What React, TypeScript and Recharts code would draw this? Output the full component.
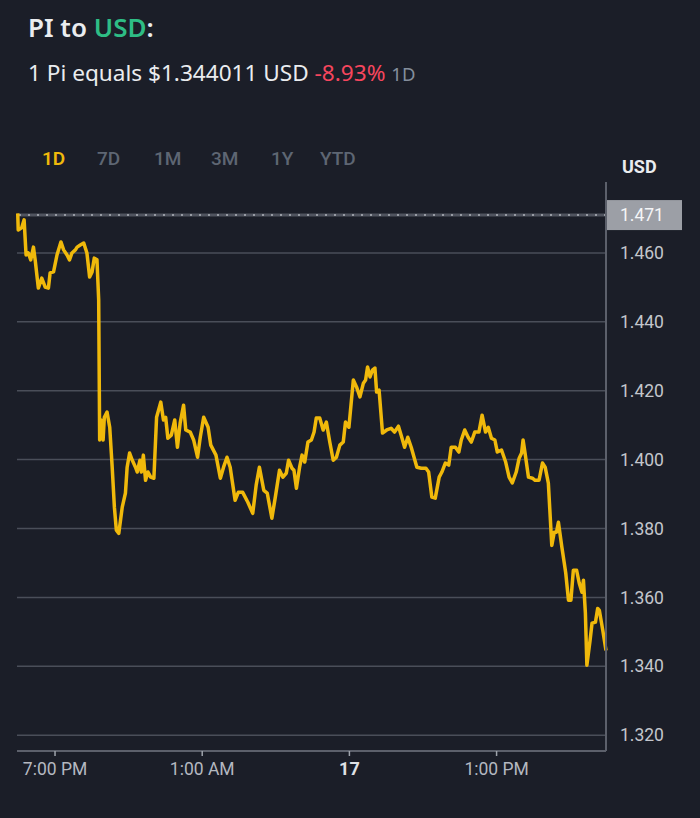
import { LineChart, Line, XAxis, YAxis, CartesianGrid, ReferenceLine } from "recharts";

// hours since midnight of the 16th
const times = [
  17.48, 17.5, 17.64, 17.74, 17.82, 17.91, 18.01, 18.12, 18.19, 18.32,
  18.46, 18.6, 18.73, 18.8, 18.94, 19.08, 19.24, 19.35, 19.49, 19.59,
  19.69, 19.83, 19.9, 20.03, 20.17, 20.3, 20.41, 20.51, 20.6, 20.71,
  20.78, 20.82, 20.88, 20.96, 21.01, 21.12, 21.23, 21.33, 21.42, 21.5,
  21.6, 21.74, 21.87, 21.94, 22.04, 22.15, 22.28, 22.35, 22.46, 22.52,
  22.6, 22.69, 22.79, 22.9, 23.03, 23.14, 23.31, 23.42, 23.51, 23.6,
  23.74, 23.88, 23.99, 24.1, 24.24, 24.33, 24.51, 24.65, 24.81, 24.92,
  25.06, 25.24, 25.35, 25.56, 25.74, 25.87, 26.01, 26.14, 26.34, 26.47,
  26.65, 26.86, 27.06, 27.2, 27.33, 27.51, 27.65, 27.84, 27.98, 28.15,
  28.29, 28.43, 28.52, 28.66, 28.74, 28.84, 28.97, 29.07, 29.18, 29.31,
  29.45, 29.56, 29.65, 29.79, 29.93, 30.06, 30.2, 30.34, 30.47, 30.61,
  30.75, 30.84, 30.98, 31.16, 31.29, 31.43, 31.57, 31.66, 31.74, 31.84,
  31.94, 32.04, 32.11, 32.21, 32.35, 32.52, 32.7, 32.84, 33.0, 33.11,
  33.25, 33.38, 33.52, 33.75, 33.93, 34.12, 34.23, 34.36, 34.5, 34.66,
  34.77, 34.91, 35.05, 35.15, 35.32, 35.46, 35.56, 35.7, 35.84, 35.97,
  36.11, 36.28, 36.41, 36.55, 36.66, 36.79, 36.93, 37.03, 37.2, 37.37,
  37.51, 37.64, 37.8, 37.92, 38.02, 38.08, 38.16, 38.3, 38.46, 38.57,
  38.73, 38.87, 38.98, 39.11, 39.25, 39.35, 39.44, 39.52, 39.66, 39.76,
  39.82, 39.93, 40.03, 40.13, 40.26, 40.37, 40.48, 40.54, 40.62, 40.68,
  40.81, 40.89, 41.03, 41.12, 41.19, 41.33, 41.46,
];

const prices = [
  1.4715, 1.4667, 1.4673, 1.4696, 1.4594, 1.46, 1.458, 1.4617, 1.458, 1.4498,
  1.4527, 1.4501, 1.4498, 1.4542, 1.4545, 1.4594, 1.4632, 1.4609, 1.4594, 1.458,
  1.46, 1.4609, 1.4617, 1.4623, 1.4629, 1.46, 1.453, 1.4545, 1.4585, 1.458,
  1.4463, 1.4057, 1.4115, 1.4057, 1.4123, 1.4138, 1.4094, 1.3978, 1.3862, 1.3795,
  1.3786, 1.3862, 1.3903, 1.3978, 1.4019, 1.3998, 1.3978, 1.3964, 1.3998, 1.3964,
  1.4013, 1.394, 1.3964, 1.3949, 1.3946, 1.4123, 1.4167, 1.4115, 1.4123, 1.4062,
  1.4071, 1.4115, 1.4036, 1.4106, 1.4158, 1.4086, 1.408, 1.4057, 1.4007, 1.4065,
  1.4123, 1.4094, 1.4042, 1.4013, 1.3946, 1.3978, 1.4007, 1.3978, 1.3882, 1.3905,
  1.3905, 1.3876, 1.3844, 1.3926, 1.3978, 1.3911, 1.3903, 1.383, 1.3891, 1.3969,
  1.3949, 1.3961, 1.3998, 1.3975, 1.3969, 1.3917, 1.3978, 1.4013, 1.3993, 1.4051,
  1.4057, 1.408, 1.4121, 1.4121, 1.4086, 1.4109, 1.4051, 1.3998, 1.4007, 1.4042,
  1.4051, 1.4109, 1.4094, 1.4231, 1.4211, 1.4182, 1.4222, 1.4231, 1.4269, 1.424,
  1.426, 1.4266, 1.4196, 1.4202, 1.4077, 1.4086, 1.4091, 1.408, 1.4097, 1.4071,
  1.4036, 1.4065, 1.4036, 1.3978, 1.3975, 1.3975, 1.3964, 1.3891, 1.3888, 1.3949,
  1.3964, 1.399, 1.3984, 1.4036, 1.4036, 1.4022, 1.4057, 1.4086, 1.4065, 1.4051,
  1.408, 1.408, 1.4129, 1.408, 1.4094, 1.4062, 1.4057, 1.4022, 1.4028, 1.3993,
  1.3949, 1.3932, 1.3964, 1.4004, 1.4019, 1.4057, 1.4019, 1.3949, 1.3946, 1.394,
  1.394, 1.399, 1.3978, 1.3932, 1.3751, 1.3789, 1.3789, 1.3818, 1.3746, 1.3699,
  1.367, 1.3592, 1.3592, 1.3679, 1.3679, 1.3641, 1.3615, 1.365, 1.3554, 1.3403,
  1.3475, 1.3525, 1.3528, 1.3568, 1.3562, 1.3504, 1.3446,
];

const xTicks = [19, 25, 31, 37];
const xTickLabels = ["7:00 PM", "1:00 AM", "17", "1:00 PM"];
const yTicks = [1.32, 1.34, 1.36, 1.38, 1.4, 1.42, 1.44, 1.46];
const openPrice = 1.471;
const tabs = ["1D", "7D", "1M", "3M", "1Y", "YTD"];
const tabX = [42, 97, 154, 211, 271, 320];

const data = times.map((t, i) => ({ t, price: prices[i] }));

const BG = "#1b1e28";
const GRID = "#4a4e59";
const AXIS = "#5c606b";
const YELLOW = "#f0b90b";
const FONT = "Roboto, 'Noto Sans', sans-serif";
const HEAD_FONT = "'Noto Sans', Roboto, sans-serif";

function XTick(props: any) {
  const { x, y, payload } = props;
  const i = xTicks.indexOf(payload.value);
  const bold = xTickLabels[i] === "17";
  return (
    <text
      x={x}
      y={y}
      dy={17}
      textAnchor="middle"
      fill={bold ? "#dfe1e5" : "#b4b8c0"}
      fontSize={bold ? 18 : 17.5}
      fontWeight={bold ? 700 : 400}
      fontFamily={FONT}
    >
      {xTickLabels[i]}
    </text>
  );
}

function YTick(props: any) {
  const { x, y, payload } = props;
  return (
    <text x={x} y={y} dy="0.35em" textAnchor="start" fill="#c3c6cc" fontSize={17.5} fontFamily={FONT}>
      {payload.value.toFixed(3)}
    </text>
  );
}

function OpenLabel(props: any) {
  const vb = props.viewBox;
  const x = vb.x + vb.width;
  return (
    <g>
      <rect x={x} y={vb.y - 15} width={76} height={30} fill="#9c9fa6" />
      <text x={x + 14} y={vb.y} dy="0.35em" fill="#f4f5f7" fontSize={17.5} fontFamily={FONT}>
        {openPrice.toFixed(3)}
      </text>
    </g>
  );
}

export default function App() {
  return (
    <div style={{ position: "relative", width: 700, height: 818, background: BG, fontFamily: FONT, overflow: "hidden" }}>
      <style>{"body{margin:0;background:" + BG + "}"}</style>

      <div style={{ position: "absolute", left: 28, top: 9, fontSize: 26, fontWeight: 600, color: "#eaecef", fontFamily: HEAD_FONT }}>
        PI to <span style={{ color: "#2ebd85" }}>USD</span>:
      </div>
      <div style={{ position: "absolute", left: 28, top: 57, fontSize: 22.6, color: "#eaecef", whiteSpace: "nowrap", fontFamily: HEAD_FONT }}>
        1 Pi equals $1.344011 USD <span style={{ color: "#f6465d" }}>-8.93%</span>{" "}
        <span style={{ color: "#848e9c", fontSize: 18.5 }}>1D</span>
      </div>

      {tabs.map((tab, i) => (
        <div
          key={tab}
          style={{
            position: "absolute",
            left: tabX[i],
            top: 147,
            fontSize: 19,
            fontWeight: i === 0 ? 600 : 500,
            color: i === 0 ? YELLOW : "#5e6673",
          }}
        >
          {tab}
        </div>
      ))}

      <div style={{ position: "absolute", left: 622, top: 156, fontSize: 18, fontWeight: 700, color: "#eaecef" }}>
        USD
      </div>

      <div style={{ position: "absolute", left: 0, top: 0 }}>
        <LineChart width={700} height={818} data={data} margin={{ top: 182, right: 0, bottom: 0, left: 17 }}>
          <CartesianGrid vertical={false} horizontalValues={yTicks} stroke={GRID} strokeWidth={1.5} />
          <XAxis
            dataKey="t"
            type="number"
            domain={[17.45, 41.45]}
            ticks={xTicks}
            tick={<XTick />}
            tickSize={5}
            height={67}
            stroke={AXIS}
            axisLine={{ stroke: AXIS, strokeWidth: 2 }}
            tickLine={{ stroke: "#9ea3ab", strokeWidth: 1.5 }}
          />
          <YAxis
            orientation="right"
            type="number"
            domain={[1.3154, 1.4806]}
            ticks={yTicks}
            tick={<YTick />}
            width={94}
            tickLine={false}
            tickMargin={8}
            axisLine={{ stroke: AXIS, strokeWidth: 2 }}
          />
          <ReferenceLine y={openPrice} stroke="#50545f" strokeWidth={3} label={<OpenLabel />} />
          <ReferenceLine y={openPrice} stroke="#b0b4bc" strokeWidth={1.5} strokeDasharray="2 7" />
          <Line
            type="linear"
            dataKey="price"
            stroke={YELLOW}
            strokeWidth={3.5}
            strokeLinejoin="round"
            dot={false}
            isAnimationActive={false}
          />
        </LineChart>
      </div>
    </div>
  );
}
